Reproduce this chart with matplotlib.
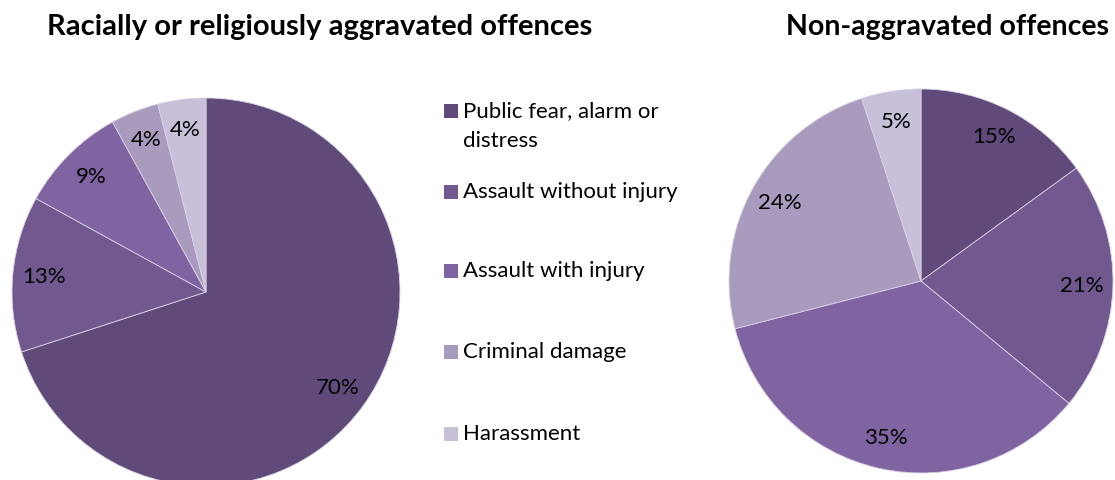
import matplotlib
matplotlib.use("Agg")
import matplotlib.pyplot as plt
from matplotlib.patches import Rectangle

plt.rcParams['font.family'] = ['Lato', 'DejaVu Sans']

# categories and shares (%)
categories = ["Public fear, alarm or\ndistress", "Assault without injury",
              "Assault with injury", "Criminal damage", "Harassment"]
aggravated = [70, 13, 9, 4, 4]
non_aggravated = [15, 21, 35, 24, 5]
colors = ["#5f4a79", "#71598f", "#8064a2", "#a99bbe", "#c8bfd9"]

fig = plt.figure(figsize=(11.15, 4.8), dpi=100)

def draw_pie(rect, values, title, title_x, title_size):
    ax = fig.add_axes(rect)
    wedges, texts, autotexts = ax.pie(
        values, colors=colors, startangle=90, counterclock=False,
        autopct="%d%%", pctdistance=0.84, radius=1,
        wedgeprops=dict(edgecolor="#d8d0e4", linewidth=0.6),
        textprops=dict(fontsize=16, color="black"))
    ax.set_xlim(-1, 1)
    ax.set_ylim(-1, 1)
    ax.set_aspect("equal")
    fig.text(title_x, 1 - 27 / 480, title, ha="center", va="center",
             fontsize=title_size, fontweight="bold")
    return wedges

draw_pie([12 / 1115, -6 / 480, 388 / 1115, 388 / 480], aggravated,
         "Racially or religiously aggravated offences", 320 / 1115, 21)
draw_pie([729 / 1115, 7 / 480, 384 / 1115, 384 / 480], non_aggravated,
         "Non-aggravated offences", 948 / 1115, 20.5)

# legend drawn by hand so the box sits beside the first text line
legend_y = [111, 192, 271, 352, 434]
for lab, col, y in zip(categories, colors, legend_y):
    fig.patches.append(Rectangle((444 / 1115, 1 - (y + 7) / 480), 14 / 1115, 14 / 480,
                                 transform=fig.transFigure, facecolor=col,
                                 edgecolor="none"))
    fig.text(463 / 1115, 1 - (y - 10) / 480, lab, ha="left", va="top",
             fontsize=16, linespacing=1.65)

fig.savefig("out.png", dpi=100)
